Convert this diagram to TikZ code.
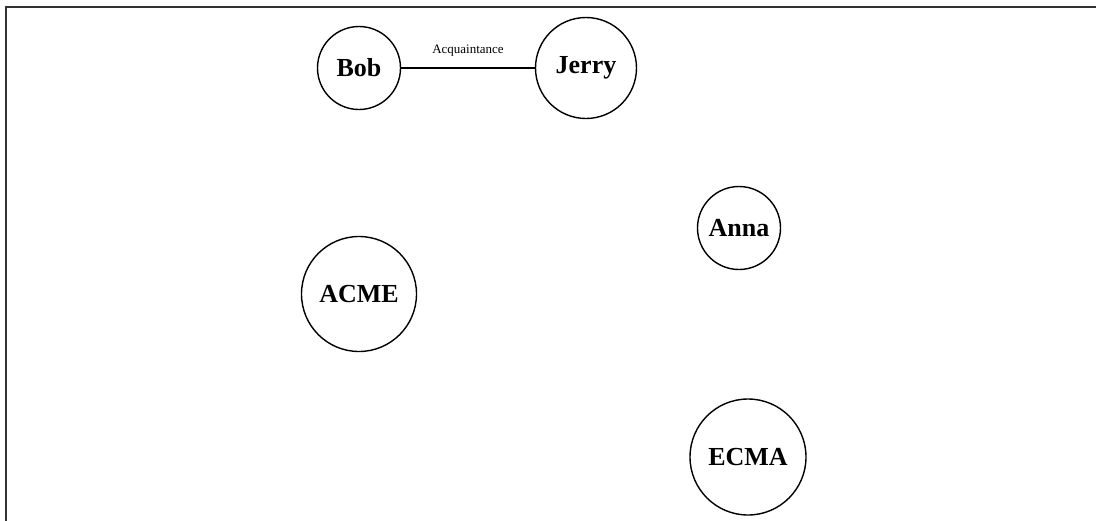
\documentclass[tikz,border=0pt]{standalone}
\usepackage{fontspec}
\setmainfont{Liberation Serif}
\begin{document}
\begin{tikzpicture}[x=1pt,y=-1pt,
  person/.style={draw, circle, line width=1.4pt, inner sep=0pt, font=\bfseries\fontsize{26}{28}\selectfont},
  rel/.style={draw, line width=1.4pt},
  rellabel/.style={font=\fontsize{13}{15}\selectfont, inner sep=0pt}]
\useasboundingbox (0,0) rectangle (1096,520);
\coordinate (bl) at (6,521);
\coordinate (tl) at (6,7);
\coordinate (tr) at (1097,7);
\draw[line width=2pt, black!80] (bl) -- (tl) -- (tr);
\node[person, minimum size=83pt] (bob) at (359,68) {Bob};
\node[person, minimum size=101pt] (jerry) at (586,68) {Jerry};
\node[person, minimum size=83pt] (anna) at (739,228) {Anna};
\node[person, minimum size=115pt] (acme) at (359,294) {ACME};
\node[person, minimum size=116pt] (ecma) at (748,457) {ECMA};
\draw[rel] (bob) -- node[rellabel, above=11pt] {Acquaintance} (jerry);
\end{tikzpicture}
\end{document}
